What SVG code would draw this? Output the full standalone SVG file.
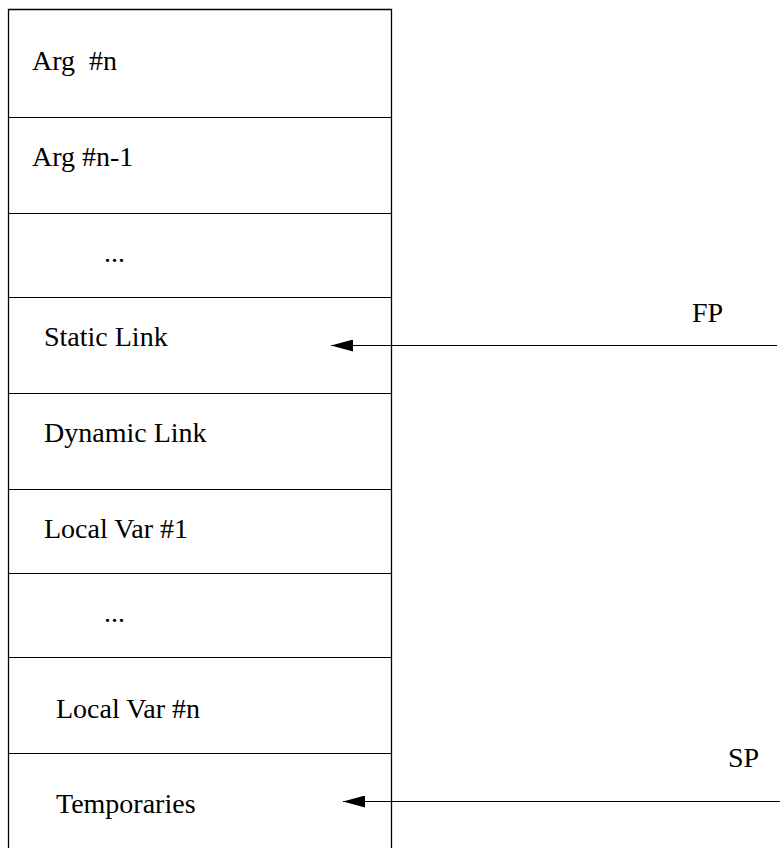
<svg xmlns="http://www.w3.org/2000/svg" width="780" height="848" viewBox="0 0 780 848">
<style>
text{font-family:"Liberation Serif","Times New Roman",serif;font-size:28px;fill:#000;white-space:pre}
.frame{fill:none;stroke:#000;stroke-width:1.3}
.div{stroke:#000;stroke-width:1.1}
.conn{stroke:#000;stroke-width:1.1;fill:none}
</style>
<defs>
<marker id="ah" viewBox="0 0 22 12" refX="22" refY="6" markerWidth="22" markerHeight="12" markerUnits="userSpaceOnUse" orient="auto">
<path d="M0,0 L22,6 L0,12 Z" fill="#000"/>
</marker>
</defs>
<path class="frame" d="M8.5,849 V9.5 H391.5 V849"/>
<g id="arg-n"><text x="32" y="70">Arg  #n</text></g>
<line class="div" x1="8.5" y1="117.5" x2="391.5" y2="117.5"/>
<g id="arg-n-1"><text x="32" y="166">Arg #n-1</text></g>
<line class="div" x1="8.5" y1="213.5" x2="391.5" y2="213.5"/>
<g id="dots-1"><text x="104" y="262">...</text></g>
<line class="div" x1="8.5" y1="297.5" x2="391.5" y2="297.5"/>
<g id="static-link"><text x="44" y="346">Static Link</text></g>
<line class="div" x1="8.5" y1="393.5" x2="391.5" y2="393.5"/>
<g id="dynamic-link"><text x="44" y="442">Dynamic Link</text></g>
<line class="div" x1="8.5" y1="489.5" x2="391.5" y2="489.5"/>
<g id="local-var-1"><text x="44" y="538">Local Var #1</text></g>
<line class="div" x1="8.5" y1="573.5" x2="391.5" y2="573.5"/>
<g id="dots-2"><text x="104" y="622">...</text></g>
<line class="div" x1="8.5" y1="657.5" x2="391.5" y2="657.5"/>
<g id="local-var-n"><text x="56" y="718">Local Var #n</text></g>
<line class="div" x1="8.5" y1="753.5" x2="391.5" y2="753.5"/>
<g id="temporaries"><text x="56" y="813">Temporaries</text></g>
<g id="fp"><text x="692" y="322">FP</text></g>
<g id="sp"><text x="728" y="767">SP</text></g>
<g id="connectors">
<line class="conn" x1="777" y1="345.5" x2="331" y2="345.5" marker-end="url(#ah)"/>
<line class="conn" x1="780" y1="801.5" x2="343" y2="801.5" marker-end="url(#ah)"/>
</g>
</svg>
